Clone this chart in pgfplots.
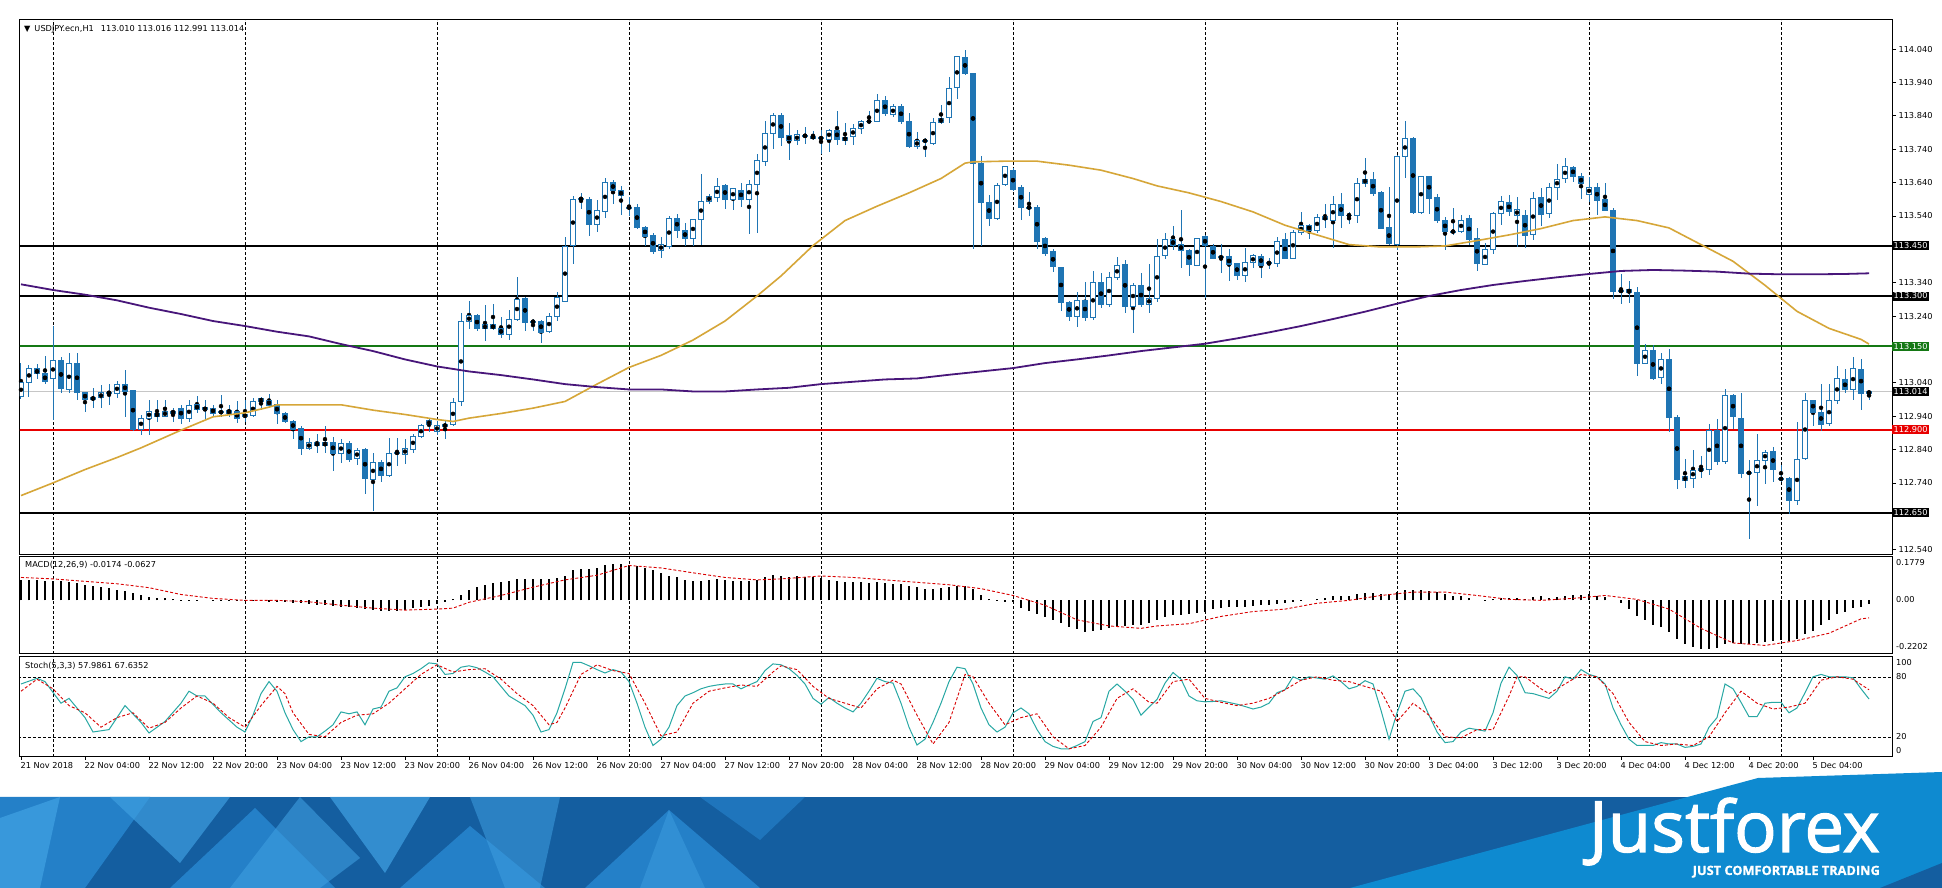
\documentclass[border=0pt]{standalone}
\usepackage{pgfplots}
\usepackage{pgfplotstable}
\pgfplotsset{compat=1.18}
\usepackage{fontspec}
\usepackage{graphicx}
\setmainfont{DejaVu Sans}
\newfontfamily\logofont{Open Sans}[FakeBold=1.6]
\newfontfamily\tagfont{Open Sans}[FakeBold=1.2]

\definecolor{candle}{RGB}{31,117,180}
\definecolor{ma50}{RGB}{214,166,56}
\definecolor{ma200}{RGB}{72,22,122}
\definecolor{stochmain}{RGB}{40,168,164}
\definecolor{lvgreen}{RGB}{20,120,20}
\definecolor{lvred}{RGB}{232,0,0}
\definecolor{fxblue}{RGB}{14,138,208}
\definecolor{fxdark}{RGB}{20,94,160}
\definecolor{fxmid}{RGB}{36,128,200}
\definecolor{fxlight}{RGB}{62,158,224}

% hourly candles, bar 0 = 21 Nov 20:00
\pgfplotstableread{
x o h l c
0 112.999 113.100 112.990 113.041
1 113.041 113.096 112.999 113.082
2 113.082 113.096 113.053 113.067
3 113.067 113.120 113.036 113.044
4 113.053 113.210 112.930 113.107
5 113.107 113.117 113.010 113.024
6 113.020 113.130 113.010 113.099
7 113.099 113.130 112.988 113.013
8 113.013 113.013 112.952 112.990
9 112.990 113.024 112.964 112.998
10 112.995 113.036 112.967 113.010
11 113.010 113.036 112.974 113.012
12 113.010 113.046 112.995 113.036
13 113.036 113.079 112.940 113.016
14 113.016 113.016 112.895 112.900
15 112.900 112.945 112.884 112.934
16 112.934 112.988 112.884 112.955
17 112.950 112.988 112.924 112.941
18 112.941 112.988 112.938 112.955
19 112.950 112.967 112.924 112.956
20 112.964 112.974 112.917 112.934
21 112.934 112.988 112.924 112.974
22 112.974 113.003 112.952 112.960
23 112.960 112.988 112.931 112.967
24 112.964 112.974 112.938 112.950
25 112.950 113.003 112.938 112.955
26 112.958 112.974 112.938 112.950
27 112.953 112.988 112.921 112.934
28 112.938 112.988 112.924 112.944
29 112.941 112.995 112.938 112.984
30 112.984 112.998 112.960 112.993
31 112.990 113.007 112.967 112.974
32 112.974 112.988 112.917 112.948
33 112.950 112.952 112.920 112.924
34 112.924 112.931 112.874 112.900
35 112.905 112.910 112.823 112.845
36 112.845 112.874 112.838 112.862
37 112.862 112.888 112.830 112.852
38 112.852 112.912 112.830 112.862
39 112.862 112.880 112.778 112.830
40 112.830 112.874 112.802 112.859
41 112.859 112.867 112.802 112.812
42 112.812 112.845 112.795 112.838
43 112.840 112.845 112.706 112.752
44 112.752 112.830 112.656 112.802
45 112.802 112.809 112.745 112.763
46 112.763 112.874 112.759 112.830
47 112.830 112.874 112.792 112.832
48 112.826 112.874 112.797 112.845
49 112.841 112.888 112.830 112.881
50 112.881 112.917 112.874 112.912
51 112.915 112.935 112.895 112.927
52 112.895 112.927 112.884 112.912
53 112.910 112.930 112.874 112.915
54 112.915 112.995 112.909 112.981
55 112.984 113.250 112.970 113.225
56 113.225 113.285 113.203 113.242
57 113.242 113.246 113.196 113.203
58 113.203 113.275 113.165 113.215
59 113.214 113.275 113.199 113.202
60 113.203 113.239 113.175 113.186
61 113.186 113.260 113.170 113.232
62 113.232 113.357 113.225 113.292
63 113.292 113.297 113.196 113.222
64 113.222 113.232 113.196 113.225
65 113.225 113.228 113.160 113.193
66 113.193 113.250 113.189 113.239
67 113.239 113.311 113.225 113.297
68 113.285 113.476 113.282 113.450
69 113.450 113.600 113.397 113.590
70 113.590 113.609 113.562 113.593
71 113.590 113.598 113.480 113.515
72 113.515 113.590 113.494 113.555
73 113.555 113.652 113.533 113.640
74 113.640 113.648 113.576 113.616
75 113.616 113.630 113.543 113.602
76 113.565 113.597 113.540 113.566
77 113.566 113.576 113.500 113.504
78 113.507 113.511 113.450 113.479
79 113.483 113.490 113.426 113.436
80 113.436 113.476 113.414 113.454
81 113.450 113.540 113.443 113.533
82 113.533 113.547 113.476 113.497
83 113.497 113.519 113.450 113.473
84 113.473 113.533 113.450 113.529
85 113.529 113.666 113.454 113.583
86 113.583 113.605 113.576 113.600
87 113.598 113.655 113.583 113.629
88 113.630 113.638 113.562 113.590
89 113.590 113.626 113.558 113.622
90 113.619 113.640 113.569 113.590
91 113.590 113.648 113.486 113.634
92 113.634 113.727 113.490 113.705
93 113.705 113.824 113.690 113.787
94 113.787 113.849 113.741 113.841
95 113.841 113.849 113.748 113.777
96 113.780 113.820 113.708 113.767
97 113.767 113.798 113.753 113.784
98 113.783 113.806 113.755 113.780
99 113.780 113.794 113.767 113.774
100 113.774 113.798 113.727 113.773
101 113.770 113.800 113.730 113.798
102 113.798 113.856 113.752 113.770
103 113.767 113.820 113.752 113.777
104 113.777 113.816 113.752 113.803
105 113.803 113.827 113.787 113.823
106 113.822 113.856 113.816 113.824
107 113.824 113.906 113.820 113.887
108 113.887 113.899 113.841 113.849
109 113.844 113.877 113.838 113.867
110 113.870 113.877 113.816 113.824
111 113.824 113.849 113.744 113.748
112 113.748 113.791 113.741 113.767
113 113.767 113.773 113.715 113.763
114 113.758 113.834 113.753 113.820
115 113.820 113.873 113.816 113.834
116 113.834 113.956 113.820 113.923
117 113.923 114.016 113.891 114.016
118 114.016 114.039 113.963 113.968
119 113.968 113.968 113.440 113.698
120 113.698 113.720 113.451 113.580
121 113.580 113.605 113.511 113.533
122 113.533 113.638 113.529 113.633
123 113.633 113.691 113.629 113.687
124 113.677 113.684 113.615 113.619
125 113.626 113.633 113.529 113.566
126 113.566 113.612 113.540 113.565
127 113.566 113.572 113.440 113.464
128 113.473 113.476 113.421 113.430
129 113.433 113.440 113.371 113.387
130 113.387 113.387 113.256 113.282
131 113.282 113.285 113.225 113.239
132 113.239 113.314 113.208 113.289
133 113.289 113.343 113.225 113.236
134 113.236 113.375 113.229 113.340
135 113.340 113.368 113.265 113.275
136 113.275 113.371 113.268 113.357
137 113.357 113.418 113.347 113.394
138 113.394 113.408 113.250 113.270
139 113.270 113.340 113.190 113.332
140 113.332 113.368 113.268 113.275
141 113.275 113.397 113.250 113.294
142 113.294 113.471 113.282 113.421
143 113.421 113.490 113.411 113.469
144 113.469 113.512 113.440 113.451
145 113.454 113.558 113.385 113.437
146 113.437 113.440 113.361 113.394
147 113.394 113.476 113.390 113.473
148 113.479 113.483 113.294 113.451
149 113.450 113.457 113.411 113.414
150 113.414 113.457 113.368 113.418
151 113.418 113.443 113.347 113.394
152 113.397 113.400 113.347 113.361
153 113.361 113.443 113.343 113.400
154 113.400 113.428 113.386 113.421
155 113.421 113.426 113.354 113.394
156 113.398 113.414 113.383 113.400
157 113.397 113.476 113.386 113.464
158 113.471 113.490 113.411 113.414
159 113.414 113.497 113.411 113.493
160 113.490 113.552 113.483 113.512
161 113.512 113.516 113.471 113.497
162 113.497 113.548 113.490 113.536
163 113.529 113.576 113.504 113.537
164 113.529 113.600 113.443 113.576
165 113.576 113.609 113.504 113.543
166 113.543 113.552 113.515 113.543
167 113.543 113.655 113.519 113.638
168 113.638 113.715 113.626 113.651
169 113.651 113.672 113.600 113.609
170 113.612 113.615 113.500 113.504
171 113.507 113.629 113.454 113.457
172 113.454 113.722 113.440 113.719
173 113.719 113.824 113.655 113.773
174 113.773 113.777 113.547 113.552
175 113.552 113.662 113.547 113.660
176 113.660 113.662 113.547 113.595
177 113.595 113.605 113.519 113.526
178 113.529 113.537 113.440 113.494
179 113.494 113.565 113.483 113.495
180 113.494 113.543 113.490 113.529
181 113.533 113.543 113.454 113.469
182 113.471 113.504 113.375 113.397
183 113.397 113.461 113.394 113.440
184 113.440 113.552 113.426 113.547
185 113.547 113.600 113.512 113.583
186 113.580 113.605 113.540 113.555
187 113.543 113.598 113.447 113.559
188 113.543 113.558 113.443 113.483
189 113.483 113.612 113.469 113.593
190 113.598 113.626 113.512 113.547
191 113.547 113.638 113.533 113.626
192 113.626 113.698 113.590 113.651
193 113.651 113.712 113.638 113.687
194 113.687 113.691 113.641 113.658
195 113.658 113.669 113.590 113.638
196 113.605 113.658 113.583 113.626
197 113.626 113.641 113.543 113.586
198 113.590 113.641 113.555 113.557
199 113.557 113.565 113.293 113.315
200 113.315 113.364 113.275 113.315
201 113.321 113.347 113.282 113.311
202 113.311 113.328 113.060 113.099
203 113.099 113.156 113.096 113.139
204 113.139 113.153 113.050 113.053
205 113.056 113.132 113.039 113.110
206 113.110 113.142 112.895 112.935
207 112.935 112.945 112.723 112.752
208 112.749 112.812 112.726 112.759
209 112.755 112.840 112.726 112.778
210 112.777 112.823 112.755 112.783
211 112.780 112.917 112.766 112.898
212 112.898 112.931 112.795 112.806
213 112.806 113.021 112.798 113.003
214 113.003 113.006 112.902 112.938
215 112.934 113.010 112.755 112.769
216 112.770 112.810 112.573 112.773
217 112.773 112.888 112.673 112.809
218 112.809 112.838 112.737 112.833
219 112.835 112.849 112.745 112.780
220 112.752 112.795 112.745 112.752
221 112.755 112.759 112.649 112.687
222 112.687 112.924 112.673 112.812
223 112.812 113.010 112.809 112.988
224 112.988 112.991 112.912 112.952
225 112.952 113.036 112.895 112.917
226 112.917 113.036 112.912 112.988
227 112.988 113.092 112.978 113.053
228 113.050 113.082 113.010 113.020
229 113.020 113.117 112.988 113.082
230 113.082 113.113 112.960 113.010
231 113.010 113.016 112.991 113.014
}\ohlc

\pgfplotstableread{
x y
0 112.702
4 112.740
8 112.780
12 112.816
15 112.845
20 112.898
24 112.938
28 112.950
31 112.967
32 112.974
40 112.974
44 112.958
48 112.945
52 112.930
54 112.924
56 112.934
60 112.948
64 112.964
68 112.984
72 113.036
76 113.086
80 113.122
84 113.168
88 113.225
92 113.300
95 113.360
99 113.451
103 113.526
107 113.569
111 113.609
115 113.652
118 113.698
119 113.702
123 113.704
127 113.704
131 113.692
135 113.677
139 113.652
142 113.630
146 113.609
150 113.583
154 113.552
158 113.512
162 113.483
166 113.454
170 113.447
174 113.447
178 113.450
182 113.466
186 113.483
190 113.502
194 113.526
198 113.537
202 113.526
206 113.504
210 113.454
214 113.404
218 113.332
222 113.254
226 113.203
230 113.170
231 113.156
}\mafast

\pgfplotstableread{
x y
0 113.335
4 113.318
8 113.304
12 113.287
16 113.265
20 113.246
24 113.225
28 113.210
32 113.193
36 113.179
40 113.156
44 113.135
48 113.110
52 113.089
56 113.074
60 113.063
64 113.050
68 113.036
72 113.027
76 113.020
80 113.020
84 113.014
88 113.014
92 113.020
96 113.025
100 113.036
104 113.043
108 113.050
112 113.053
116 113.064
120 113.074
124 113.084
128 113.099
132 113.110
136 113.122
140 113.135
144 113.146
148 113.157
152 113.173
156 113.191
160 113.210
164 113.231
168 113.253
172 113.277
176 113.300
180 113.318
184 113.333
188 113.345
192 113.356
196 113.366
200 113.375
204 113.378
208 113.376
212 113.373
216 113.367
220 113.365
224 113.365
228 113.366
231 113.368
}\maslow

\pgfplotstableread{
x m
0 0.084
1 0.084
2 0.084
3 0.080
4 0.080
5 0.078
6 0.074
7 0.070
8 0.064
9 0.060
10 0.054
11 0.050
12 0.044
13 0.040
14 0.030
15 0.020
16 0.014
17 0.010
18 0.008
19 0.004
20 0.002
21 0.001
22 0.001
23 0.000
24 -0.001
25 -0.001
26 -0.002
27 -0.002
28 -0.003
29 -0.003
30 -0.004
31 -0.005
32 -0.006
33 -0.008
34 -0.010
35 -0.012
36 -0.016
37 -0.020
38 -0.020
39 -0.024
40 -0.026
41 -0.028
42 -0.032
43 -0.036
44 -0.040
45 -0.042
46 -0.042
47 -0.042
48 -0.040
49 -0.032
50 -0.028
51 -0.024
52 -0.016
53 -0.006
54 0.004
55 0.020
56 0.044
57 0.054
58 0.064
59 0.072
60 0.076
61 0.080
62 0.088
63 0.088
64 0.088
65 0.086
66 0.088
67 0.092
68 0.100
69 0.123
70 0.129
71 0.129
72 0.133
73 0.143
74 0.149
75 0.149
76 0.143
77 0.139
78 0.133
79 0.123
80 0.113
81 0.100
82 0.094
83 0.084
84 0.080
85 0.080
86 0.084
87 0.088
88 0.084
89 0.080
90 0.080
91 0.080
92 0.084
93 0.094
94 0.103
95 0.100
96 0.094
97 0.098
98 0.096
99 0.094
100 0.090
101 0.084
102 0.080
103 0.076
104 0.074
105 0.074
106 0.072
107 0.074
108 0.070
109 0.068
110 0.068
111 0.060
112 0.054
113 0.048
114 0.048
115 0.050
116 0.054
117 0.060
118 0.060
119 0.048
120 0.020
121 0.004
122 -0.004
123 -0.008
124 -0.008
125 -0.032
126 -0.044
127 -0.056
128 -0.068
129 -0.080
130 -0.092
131 -0.111
132 -0.119
133 -0.129
134 -0.125
135 -0.121
136 -0.115
137 -0.107
138 -0.107
139 -0.103
140 -0.100
141 -0.092
142 -0.080
143 -0.068
144 -0.060
145 -0.060
146 -0.056
147 -0.052
148 -0.048
149 -0.036
150 -0.032
151 -0.028
152 -0.028
153 -0.028
154 -0.024
155 -0.020
156 -0.020
157 -0.016
158 -0.012
159 -0.008
160 -0.004
161 0.000
162 0.004
163 0.008
164 0.016
165 0.018
166 0.016
167 0.024
168 0.032
169 0.032
170 0.028
171 0.024
172 0.034
173 0.044
174 0.044
175 0.042
176 0.040
177 0.034
178 0.024
179 0.018
180 0.016
181 0.010
182 0.000
183 -0.004
184 0.004
185 0.008
186 0.008
187 0.008
188 0.004
189 0.012
190 0.016
191 0.008
192 0.012
193 0.016
194 0.020
195 0.020
196 0.024
197 0.018
198 0.012
199 0.000
200 -0.012
201 -0.036
202 -0.066
203 -0.080
204 -0.100
205 -0.111
206 -0.131
207 -0.159
208 -0.179
209 -0.191
210 -0.199
211 -0.199
212 -0.195
213 -0.179
214 -0.175
215 -0.179
216 -0.179
217 -0.175
218 -0.169
219 -0.165
220 -0.163
221 -0.165
222 -0.159
223 -0.139
224 -0.125
225 -0.100
226 -0.080
227 -0.056
228 -0.046
229 -0.032
230 -0.028
231 -0.017
}\macdh

\pgfplotstableread{
x s
0 0.094
4 0.088
8 0.078
12 0.068
16 0.052
20 0.024
24 0.008
28 0.000
32 0.000
36 -0.006
40 -0.020
44 -0.032
48 -0.040
52 -0.036
54 -0.032
56 -0.008
60 0.020
64 0.054
68 0.084
72 0.103
76 0.143
80 0.133
84 0.113
88 0.094
92 0.084
95 0.088
100 0.100
104 0.094
108 0.084
112 0.074
116 0.064
120 0.048
124 0.020
128 -0.020
132 -0.080
136 -0.105
140 -0.115
142 -0.105
146 -0.096
150 -0.066
154 -0.046
158 -0.036
162 -0.012
166 0.000
170 0.020
174 0.034
178 0.034
182 0.020
186 0.004
190 0.000
194 0.008
198 0.020
202 0.004
206 -0.036
210 -0.115
214 -0.175
218 -0.185
222 -0.165
226 -0.135
230 -0.076
231 -0.072
}\macds

\pgfplotstableread{
x k
0 73.0
2 78.7
3 75.4
5 53.8
6 58.6
8 39.4
9 25.0
11 27.4
13 51.4
15 34.6
16 24.0
18 35.5
20 53.8
21 65.8
22 61.0
23 61.0
25 44.2
27 29.8
28 25.0
29 41.8
30 63.4
31 75.4
32 65.8
33 44.2
34 27.4
35 15.4
36 20.2
37 20.2
38 25.9
39 32.2
40 45.1
41 43.2
42 45.1
43 32.2
44 48.0
45 49.9
46 65.8
47 69.1
48 80.2
49 83.5
50 88.3
51 94.1
52 93.1
53 82.6
54 83.5
55 89.8
56 91.2
57 89.3
58 85.0
59 80.2
60 70.6
61 61.0
62 56.2
63 51.4
64 41.8
65 25.0
66 27.4
67 44.2
68 68.2
69 94.6
70 94.6
71 91.2
72 87.4
73 84.0
74 87.4
75 85.0
76 75.4
77 53.8
78 29.8
79 11.5
80 17.8
81 29.8
82 51.4
83 61.0
84 64.3
85 68.2
86 70.6
87 72.0
88 73.0
89 73.0
90 68.2
91 72.0
92 75.4
93 86.4
94 93.1
95 92.2
96 88.3
97 81.6
98 73.0
99 58.6
100 52.8
101 59.5
102 53.8
103 49.0
104 45.1
105 53.8
106 65.8
107 78.7
108 75.4
109 73.9
110 53.8
111 29.8
112 12.0
113 17.8
114 34.6
115 53.8
116 75.4
117 89.8
118 88.3
119 73.0
120 49.0
121 32.2
122 25.0
123 29.8
124 44.2
125 49.0
126 43.2
127 27.4
128 15.4
129 10.6
130 8.2
131 8.2
132 11.5
133 15.4
134 35.5
135 39.4
136 65.8
137 73.0
138 65.8
139 57.6
140 41.8
141 49.9
142 57.6
143 73.9
144 84.5
145 77.8
146 61.0
147 56.2
148 55.2
149 55.5
150 56.2
151 54.5
152 52.8
153 50.5
154 48.0
155 49.9
156 53.8
157 64.3
158 67.2
159 80.2
160 76.8
161 80.2
162 79.0
163 77.8
164 81.1
165 75.4
166 68.2
167 70.6
168 76.3
169 73.0
170 46.6
171 17.8
172 44.2
173 65.8
174 68.2
175 59.5
176 41.8
177 25.0
178 14.4
179 15.4
180 25.0
181 28.8
182 27.4
183 25.9
184 44.2
185 73.9
186 89.8
187 81.6
188 64.3
189 63.4
190 61.0
191 58.6
192 65.8
193 80.2
194 77.8
195 87.4
196 82.6
197 80.2
198 73.0
199 49.0
200 32.2
201 17.8
202 11.5
203 11.5
204 11.5
205 14.4
206 13.0
207 13.0
208 9.6
209 10.6
210 13.0
211 29.8
212 39.4
213 73.0
214 68.2
215 54.7
216 40.3
217 40.3
218 53.8
219 54.7
220 54.7
221 44.2
222 49.0
223 64.3
224 80.2
225 82.6
226 80.2
227 80.2
228 80.2
229 79.2
230 68.2
231 58.0
}\stochk

\pgfplotstableread{
x d
0 65.8
2 77.8
4 68.2
6 51.4
8 44.2
10 29.8
12 39.4
14 44.2
16 28.8
18 34.6
20 49.0
22 61.0
24 53.8
26 39.4
28 29.8
30 51.4
32 70.6
33 63.4
34 44.2
36 22.6
38 20.2
40 34.6
42 41.8
44 43.2
46 53.8
48 68.2
50 82.6
52 92.2
54 85.0
56 87.4
58 88.3
60 77.8
62 63.4
64 51.4
66 32.2
67 34.6
68 49.0
70 82.6
72 92.2
74 86.4
76 83.5
78 53.8
80 21.1
82 25.0
84 53.8
86 65.8
88 69.1
90 72.0
92 70.6
94 85.0
95 91.2
97 87.4
99 70.6
101 58.6
103 53.8
105 49.0
107 68.2
109 76.8
110 73.0
112 41.8
114 13.0
116 34.6
118 82.6
119 80.2
121 53.8
123 32.2
125 39.4
127 43.2
129 20.2
131 8.2
133 11.5
135 29.8
137 58.6
139 68.2
141 54.7
142 53.8
144 75.4
146 77.8
148 58.6
150 54.7
152 51.4
154 53.8
156 58.6
158 67.2
160 76.8
162 80.2
164 76.8
166 75.4
168 70.6
170 65.8
172 35.5
174 53.8
176 41.8
178 20.2
180 19.2
182 27.4
184 27.4
186 61.0
187 80.2
188 80.2
190 68.2
191 63.4
193 73.0
195 82.6
197 80.2
199 63.4
201 34.6
203 15.4
205 11.5
207 13.0
209 11.5
211 20.2
213 44.2
215 65.8
217 53.8
219 48.0
221 49.9
223 53.8
225 76.8
227 80.2
229 77.8
231 67.2
}\stochd

\pgfplotsset{
  mtpanel/.style={
    scale only axis, width=1872pt, xmin=-0.125, xmax=233.875,
    anchor=north west,
    axis line style={black, line width=1pt},
    tick style={black, line width=0.8pt},
    tick label style={font=\fontsize{8.2}{9}\selectfont},
    xtick=\empty,
    extra x ticks={4,28,...,220},
    extra x tick labels={},
    extra x tick style={grid=major, major tick length=0pt},
    grid style={black, line width=0.9pt, dash pattern=on 3pt off 2pt},
    ytick pos=right, yticklabel pos=right,
    tick align=outside, major tick length=4pt,
    clip mode=individual,
  },
  lvl/.style={line width=2pt, mark=none},
  sig/.style={red!85!black, line width=0.9pt, dash pattern=on 3pt off 2pt, mark=none},
}
\tikzset{pricetag/.style={anchor=west, inner sep=1.4pt, text=white, font=\fontsize{8.2}{9}\selectfont}}

\begin{document}
\begin{tikzpicture}
\path[use as bounding box] (0,0) rectangle (1942pt,888pt);
\fill[white] (0,0) rectangle (1942pt,888pt);

% ---------- price panel ----------
% labels at 112.640, 113.140 and 113.440 sit under the level tags, so they are left blank
\begin{axis}[mtpanel, at={(20pt,868pt)}, height=535pt,
  ymin=112.524, ymax=114.127,
  ytick={112.54,112.64,112.74,112.84,112.94,113.04,113.14,113.24,113.34,113.44,113.54,113.64,113.74,113.84,113.94,114.04},
  yticklabels={112.540,,112.740,112.840,112.940,113.040,,113.240,113.340,,113.540,113.640,113.740,113.840,113.940,114.040},
  yticklabel style={anchor=west, xshift=-1pt}]
\addplot[gray!45, line width=0.8pt, mark=none] coordinates {(-1,113.014) (240,113.014)};
\addplot[lvl, black] coordinates {(-1,113.45) (240,113.45)};
\addplot[lvl, black] coordinates {(-1,113.30) (240,113.30)};
\addplot[lvl, lvgreen] coordinates {(-1,113.15) (240,113.15)};
\addplot[lvl, lvred] coordinates {(-1,112.90) (240,112.90)};
\addplot[lvl, black] coordinates {(-1,112.65) (240,112.65)};
% wicks
\addplot[only marks, mark=none, error bars/.cd, y dir=both, y explicit, error mark=none,
  error bar style={draw=candle, line width=1pt, solid}]
  table[x=x, y expr={(\thisrow{h}+\thisrow{l})/2}, y error expr={(\thisrow{h}-\thisrow{l})/2}] {\ohlc};
% bodies
\addplot[only marks, mark=none, error bars/.cd, y dir=both, y explicit, error mark=none,
  error bar style={draw=candle, line width=6pt, solid}]
  table[x=x, y expr={(\thisrow{o}+\thisrow{c})/2}, y error expr={abs(\thisrow{c}-\thisrow{o})/2+0.0015}] {\ohlc};
\addplot[only marks, mark=none, error bars/.cd, y dir=both, y explicit, error mark=none,
  error bar style={draw=white, line width=4pt, solid}]
  table[x=x, y expr={(\thisrow{o}+\thisrow{c})/2}, y error expr={max((\thisrow{c}-\thisrow{o})/2-0.0015,0)}] {\ohlc};
% moving averages
\addplot[ma50, line width=1.6pt, mark=none] table[x=x, y=y] {\mafast};
\addplot[ma200, line width=1.8pt, mark=none] table[x=x, y=y] {\maslow};
% right-hand price tags
\node[pricetag, fill=black] at (axis cs:233.875,113.45) {113.450};
\node[pricetag, fill=black] at (axis cs:233.875,113.30) {113.300};
\node[pricetag, fill=lvgreen] at (axis cs:233.875,113.15) {113.150};
\node[pricetag, fill=black] at (axis cs:233.875,113.014) {113.014};
\node[pricetag, fill=lvred] at (axis cs:233.875,112.90) {112.900};
\node[pricetag, fill=black] at (axis cs:233.875,112.65) {112.650};
\end{axis}

% ---------- MACD panel ----------
\begin{axis}[mtpanel, at={(20pt,331pt)}, height=97pt,
  ymin=-0.2202, ymax=0.1779, ytick=\empty]
\addplot[ycomb, black, line width=1.1pt, mark=none] table[x=x, y=m] {\macdh};
\addplot[sig] table[x=x, y=s] {\macds};
\end{axis}

% ---------- Stochastic panel ----------
\begin{axis}[mtpanel, at={(20pt,231pt)}, height=100pt,
  ymin=0, ymax=100, ytick=\empty,
  xtick={0,8,...,224}, xtick pos=bottom, major tick length=3pt,
  xticklabels={21 Nov 2018,22 Nov 04:00,22 Nov 12:00,22 Nov 20:00,23 Nov 04:00,23 Nov 12:00,23 Nov 20:00,26 Nov 04:00,26 Nov 12:00,26 Nov 20:00,27 Nov 04:00,27 Nov 12:00,27 Nov 20:00,28 Nov 04:00,28 Nov 12:00,28 Nov 20:00,29 Nov 04:00,29 Nov 12:00,29 Nov 20:00,30 Nov 04:00,30 Nov 12:00,30 Nov 20:00,3 Dec 04:00,3 Dec 12:00,3 Dec 20:00,4 Dec 04:00,4 Dec 12:00,4 Dec 20:00,5 Dec 04:00},
  xticklabel style={anchor=north west, inner sep=0pt, xshift=-0.5pt, yshift=-2pt}]
\addplot[black, line width=0.9pt, dash pattern=on 3pt off 2pt, mark=none] coordinates {(-1,20) (240,20)};
\addplot[black, line width=0.9pt, dash pattern=on 3pt off 2pt, mark=none] coordinates {(-1,80) (240,80)};
\addplot[stochmain, line width=1pt, mark=none] table[x=x, y=k] {\stochk};
\addplot[sig] table[x=x, y=d] {\stochd};
\end{axis}

% ---------- panel captions and side scales ----------
\begin{scope}[font=\fontsize{8.2}{9}\selectfont]
\node[anchor=west, inner sep=0pt] at (24pt,859pt) {▼\hspace{4pt}USDJPY.ecn,H1\hspace{7pt}113.010 113.016 112.991 113.014};
\node[anchor=west, inner sep=0pt] at (25pt,323pt) {MACD(12,26,9) -0.0174 -0.0627};
\node[anchor=west, inner sep=0pt] at (25pt,222pt) {Stoch(5,3,3) 57.9861 67.6352};
\node[anchor=west, inner sep=0pt] at (1896pt,325pt) {0.1779};
\node[anchor=west, inner sep=0pt] at (1896pt,288.5pt) {0.00};
\node[anchor=west, inner sep=0pt] at (1896pt,241pt) {-0.2202};
\node[anchor=west, inner sep=0pt] at (1896pt,225pt) {100};
\node[anchor=west, inner sep=0pt] at (1896pt,211pt) {80};
\node[anchor=west, inner sep=0pt] at (1896pt,151pt) {20};
\node[anchor=west, inner sep=0pt] at (1896pt,137.5pt) {0};
\end{scope}

% ---------- footer banner ----------
\fill[fxdark] (0,0) rectangle (1942pt,91pt);
\begin{scope}
\clip (0,0) rectangle (1942pt,91pt);
\fill[fxmid] (0,91pt) -- (150pt,91pt) -- (85pt,0) -- (0,0) -- cycle;
\fill[fxlight, opacity=0.8] (0,70pt) -- (60pt,91pt) -- (40pt,0) -- (0,0) -- cycle;
\fill[fxlight, opacity=0.7] (110pt,91pt) -- (230pt,91pt) -- (180pt,25pt) -- cycle;
\fill[fxmid] (170pt,0) -- (255pt,80pt) -- (335pt,0) -- cycle;
\fill[fxlight, opacity=0.6] (230pt,0) -- (300pt,91pt) -- (360pt,30pt) -- (320pt,0) -- cycle;
\fill[fxlight, opacity=0.75] (330pt,91pt) -- (430pt,91pt) -- (385pt,15pt) -- cycle;
\fill[fxmid] (400pt,0) -- (470pt,62pt) -- (545pt,0) -- cycle;
\fill[fxlight, opacity=0.55] (470pt,91pt) -- (560pt,91pt) -- (540pt,0) -- (505pt,0) -- cycle;
\fill[fxmid] (585pt,0) -- (669pt,78pt) -- (760pt,0) -- cycle;
\fill[fxlight, opacity=0.5] (640pt,0) -- (669pt,78pt) -- (705pt,0) -- cycle;
\fill[fxmid, opacity=0.7] (700pt,91pt) -- (805pt,91pt) -- (760pt,48pt) -- cycle;
\end{scope}
\fill[fxblue] (1350pt,0) -- (1758pt,110pt) -- (1942pt,116pt) -- (1942pt,0) -- cycle;
\fill[fxdark] (1880pt,0) -- (1942pt,0) -- (1942pt,25pt) -- cycle;
\node[anchor=base east, inner sep=0pt, text=white] at (1880pt,36pt) {\resizebox{291pt}{!}{\logofont Justforex}};
\node[anchor=base east, inner sep=0pt, text=white] at (1880pt,13pt) {\resizebox{187pt}{!}{\tagfont\bfseries JUST COMFORTABLE TRADING}};
\end{tikzpicture}
\end{document}
